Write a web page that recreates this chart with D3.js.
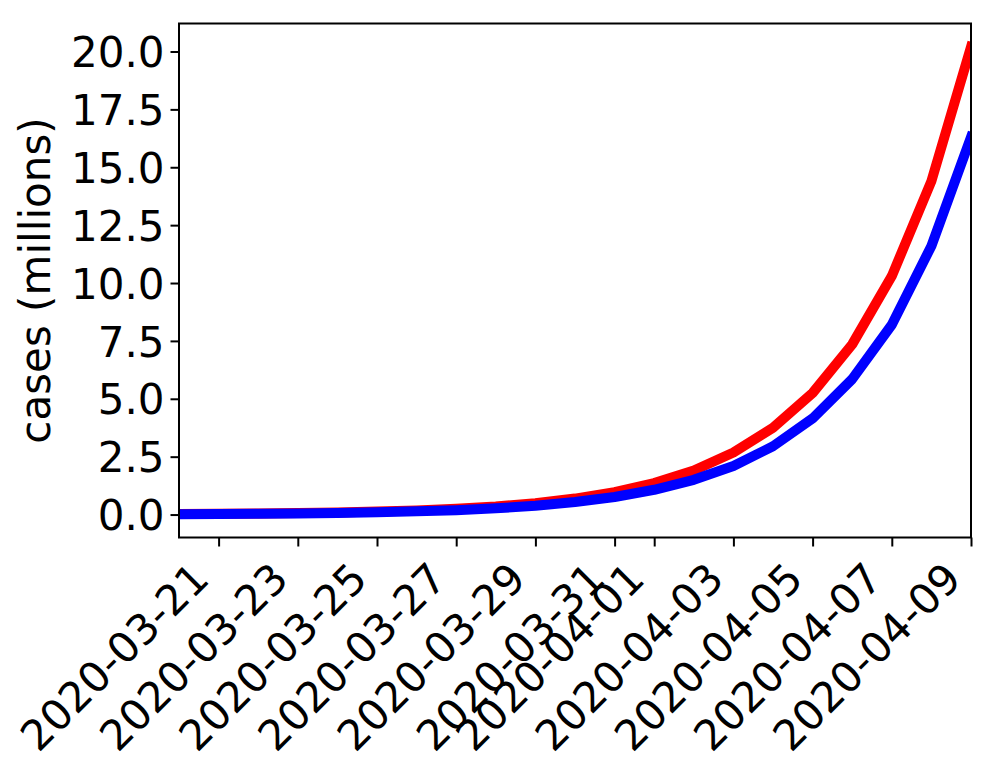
<!DOCTYPE html>
<html>
<head>
<meta charset="utf-8">
<script src="https://cdn.jsdelivr.net/npm/d3@7"></script>
<style>
  html, body { margin: 0; padding: 0; background: #fff; }
  svg { display: block; }
  text { font-family: "DejaVu Sans", sans-serif; fill: #000; }
</style>
</head>
<body>
<svg id="chart" width="1000" height="765"></svg>
<script>
// ---- data ----
const dates = [
  "2020-03-20","2020-03-21","2020-03-22","2020-03-23","2020-03-24","2020-03-25","2020-03-26",
  "2020-03-27","2020-03-28","2020-03-29","2020-03-30","2020-03-31","2020-04-01","2020-04-02",
  "2020-04-03","2020-04-04","2020-04-05","2020-04-06","2020-04-07","2020-04-08","2020-04-09"
];
const redSeries = [0.023,0.033,0.046,0.065,0.09,0.13,0.18,0.25,0.35,0.49,0.69,0.97,1.36,1.9,2.68,3.75,5.25,7.35,10.3,14.4,20.2];
const blueSeries = [0.018,0.026,0.036,0.05,0.07,0.10,0.14,0.19,0.27,0.38,0.54,0.76,1.07,1.5,2.1,2.95,4.15,5.85,8.2,11.6,16.3];
const xTickLabels = ["2020-03-21","2020-03-23","2020-03-25","2020-03-27","2020-03-29","2020-03-31",
  "2020-04-01","2020-04-03","2020-04-05","2020-04-07","2020-04-09"];
const yTicks = [0, 2.5, 5, 7.5, 10, 12.5, 15, 17.5, 20];
const yLabel = "cases (millions)";

// ---- layout ----
const L = 179, R = 971, T = 23.5, B = 537.5;
const parse = d3.utcParse("%Y-%m-%d");
const svg = d3.select("#chart");

const x = d3.scaleUtc()
  .domain([parse(dates[0]), parse(dates[dates.length - 1])])
  .range([L, R]);
const allVals = redSeries.concat(blueSeries);
const vmin = d3.min(allVals), vmax = d3.max(allVals);
const span = vmax - vmin;
const y = d3.scaleLinear()
  .domain([vmin - 0.05 * span, vmax + 0.05 * span])
  .range([B, T]);

svg.append("rect").attr("width", 1000).attr("height", 765).attr("fill", "#fff");

svg.append("defs").append("clipPath").attr("id", "clip")
  .append("rect").attr("x", L).attr("y", T).attr("width", R - L).attr("height", B - T);

const line = d3.line().x((d, i) => x(parse(dates[i]))).y(d => y(d));
const plot = svg.append("g").attr("clip-path", "url(#clip)");
plot.append("path").datum(redSeries)
  .attr("d", line).attr("fill", "none").attr("stroke", "#ff0000")
  .attr("stroke-width", 10).attr("stroke-linejoin", "round").attr("stroke-linecap", "square");
plot.append("path").datum(blueSeries)
  .attr("d", line).attr("fill", "none").attr("stroke", "#0000ff")
  .attr("stroke-width", 10).attr("stroke-linejoin", "round").attr("stroke-linecap", "square");

// y axis
const yAxis = d3.axisLeft(y).tickValues(yTicks).tickFormat(d3.format(".1f"))
  .tickSize(8.5).tickPadding(6);
const gy = svg.append("g").attr("transform", `translate(${L},0)`).call(yAxis);
gy.select(".domain").remove();
gy.selectAll(".tick line").attr("stroke", "#000").attr("stroke-width", 2);
gy.selectAll(".tick text").attr("font-size", 42).attr("font-family", "DejaVu Sans")
  .attr("dy", "0.36em");

// x axis
const xAxis = d3.axisBottom(x).tickValues(xTickLabels.map(parse))
  .tickFormat(d3.utcFormat("%Y-%m-%d")).tickSize(9);
const gx = svg.append("g").attr("transform", `translate(0,${B})`).call(xAxis);
gx.select(".domain").remove();
gx.selectAll(".tick line").attr("stroke", "#000").attr("stroke-width", 2);
gx.selectAll(".tick text")
  .attr("font-size", 42).attr("font-family", "DejaVu Sans")
  .attr("text-anchor", "end")
  .attr("x", 0).attr("y", 0).attr("dy", 0)
  .attr("transform", "translate(-8,43.5) rotate(-45)");

// frame
svg.append("rect").attr("x", L).attr("y", T).attr("width", R - L).attr("height", B - T)
  .attr("fill", "none").attr("stroke", "#000").attr("stroke-width", 2);

// y label
svg.append("text")
  .attr("transform", `translate(49.5,${(T + B) / 2}) rotate(-90)`)
  .attr("text-anchor", "middle").attr("font-size", 42)
  .text(yLabel);
</script>
</body>
</html>
